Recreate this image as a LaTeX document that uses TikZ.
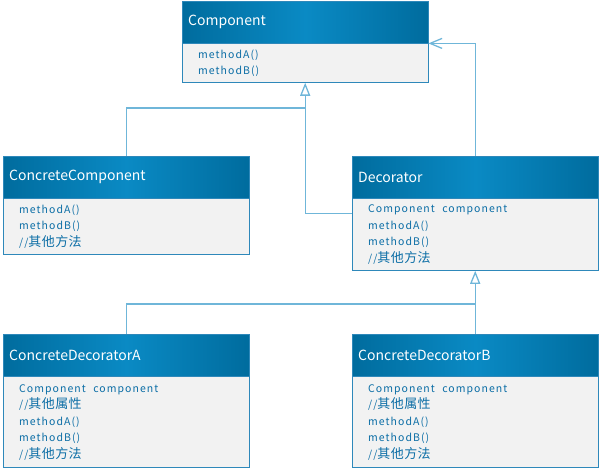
\documentclass[tikz,border=0pt]{standalone}
\usepackage{fontspec}
\usepackage{tikz}
\usetikzlibrary{arrows.meta,calc}
\newfontfamily\hdrfont{Noto Sans CJK SC}
\newfontfamily\bodyfont[LetterSpace=10]{Noto Sans CJK SC}
\newfontfamily\zhfont[LetterSpace=3]{Noto Sans CJK SC}
\newcommand\zh[1]{{\zhfont\fontsize{13}{16.5}\selectfont #1}}
\newcommand\field{Component\hspace{4pt} component}
\definecolor{hdrdark}{HTML}{006C9E}
\definecolor{hdrlight}{HTML}{0A8AC4}
\definecolor{boxline}{HTML}{2E88BA}
\definecolor{bodyfill}{HTML}{F2F2F2}
\definecolor{bodytext}{HTML}{0C6EA6}
\definecolor{linkline}{HTML}{6FB6D9}
\tikzset{
  hdr/.style={draw=boxline, left color=hdrdark, right color=hdrdark, middle color=hdrlight,
    text=white, font=\hdrfont\fontsize{14}{16}\selectfont, anchor=north west,
    minimum height=42pt, inner xsep=6pt, text width=234pt, align=left},
  body/.style={draw=boxline, fill=bodyfill, text=bodytext,
    font=\bodyfont\fontsize{10.5}{16.5}\selectfont, anchor=north west,
    inner xsep=16pt, inner ysep=0pt, text width=214pt, align=left},
  link/.style={draw=linkline, line width=1.3pt},
  inherit/.style={link, -{Triangle[open, length=13pt, width=10pt]}},
  assoc/.style={link, -{Straight Barb[length=12pt, width=10pt]}}
}
\begin{document}
\begin{tikzpicture}[x=1pt,y=-1pt]
\useasboundingbox (0,0) rectangle (599,470);
% classes
\node[hdr] (comp) at (182,1) {Component};
\node[body, minimum height=39pt] (compb) at (comp.south west) {methodA()\\methodB()};
\node[hdr] (cc) at (3,156) {ConcreteComponent};
\node[body, minimum height=56pt] (ccb) at (cc.south west) {methodA()\\methodB()\\//\zh{其他方法}};
\node[hdr] (dec) at (352,156) {Decorator};
\node[body, minimum height=72pt] (decb) at (dec.south west) {\field\\methodA()\\methodB()\\//\zh{其他方法}};
\node[hdr] (cda) at (3,334) {ConcreteDecoratorA};
\node[body, minimum height=91pt] (cdab) at (cda.south west) {\field\\//\zh{其他属性}\\methodA()\\methodB()\\//\zh{其他方法}};
\node[hdr] (cdb) at (352,334) {ConcreteDecoratorB};
\node[body, minimum height=91pt] (cdbb) at (cdb.south west) {\field\\//\zh{其他属性}\\methodA()\\methodB()\\//\zh{其他方法}};
% connectors
\coordinate (j1) at (305,108);
\coordinate (j2) at (475,304);
\draw[link] (cc.north) |- (j1);
\draw[inherit] ($(decb.north west)+(0,15)$) -| (compb.south);
\draw[assoc] (dec.north) |- (comp.south east);
\draw[link] (cda.north) |- (j2);
\draw[inherit] (cdb.north) -- (cdbb.north |- decb.south);
\end{tikzpicture}
\end{document}
